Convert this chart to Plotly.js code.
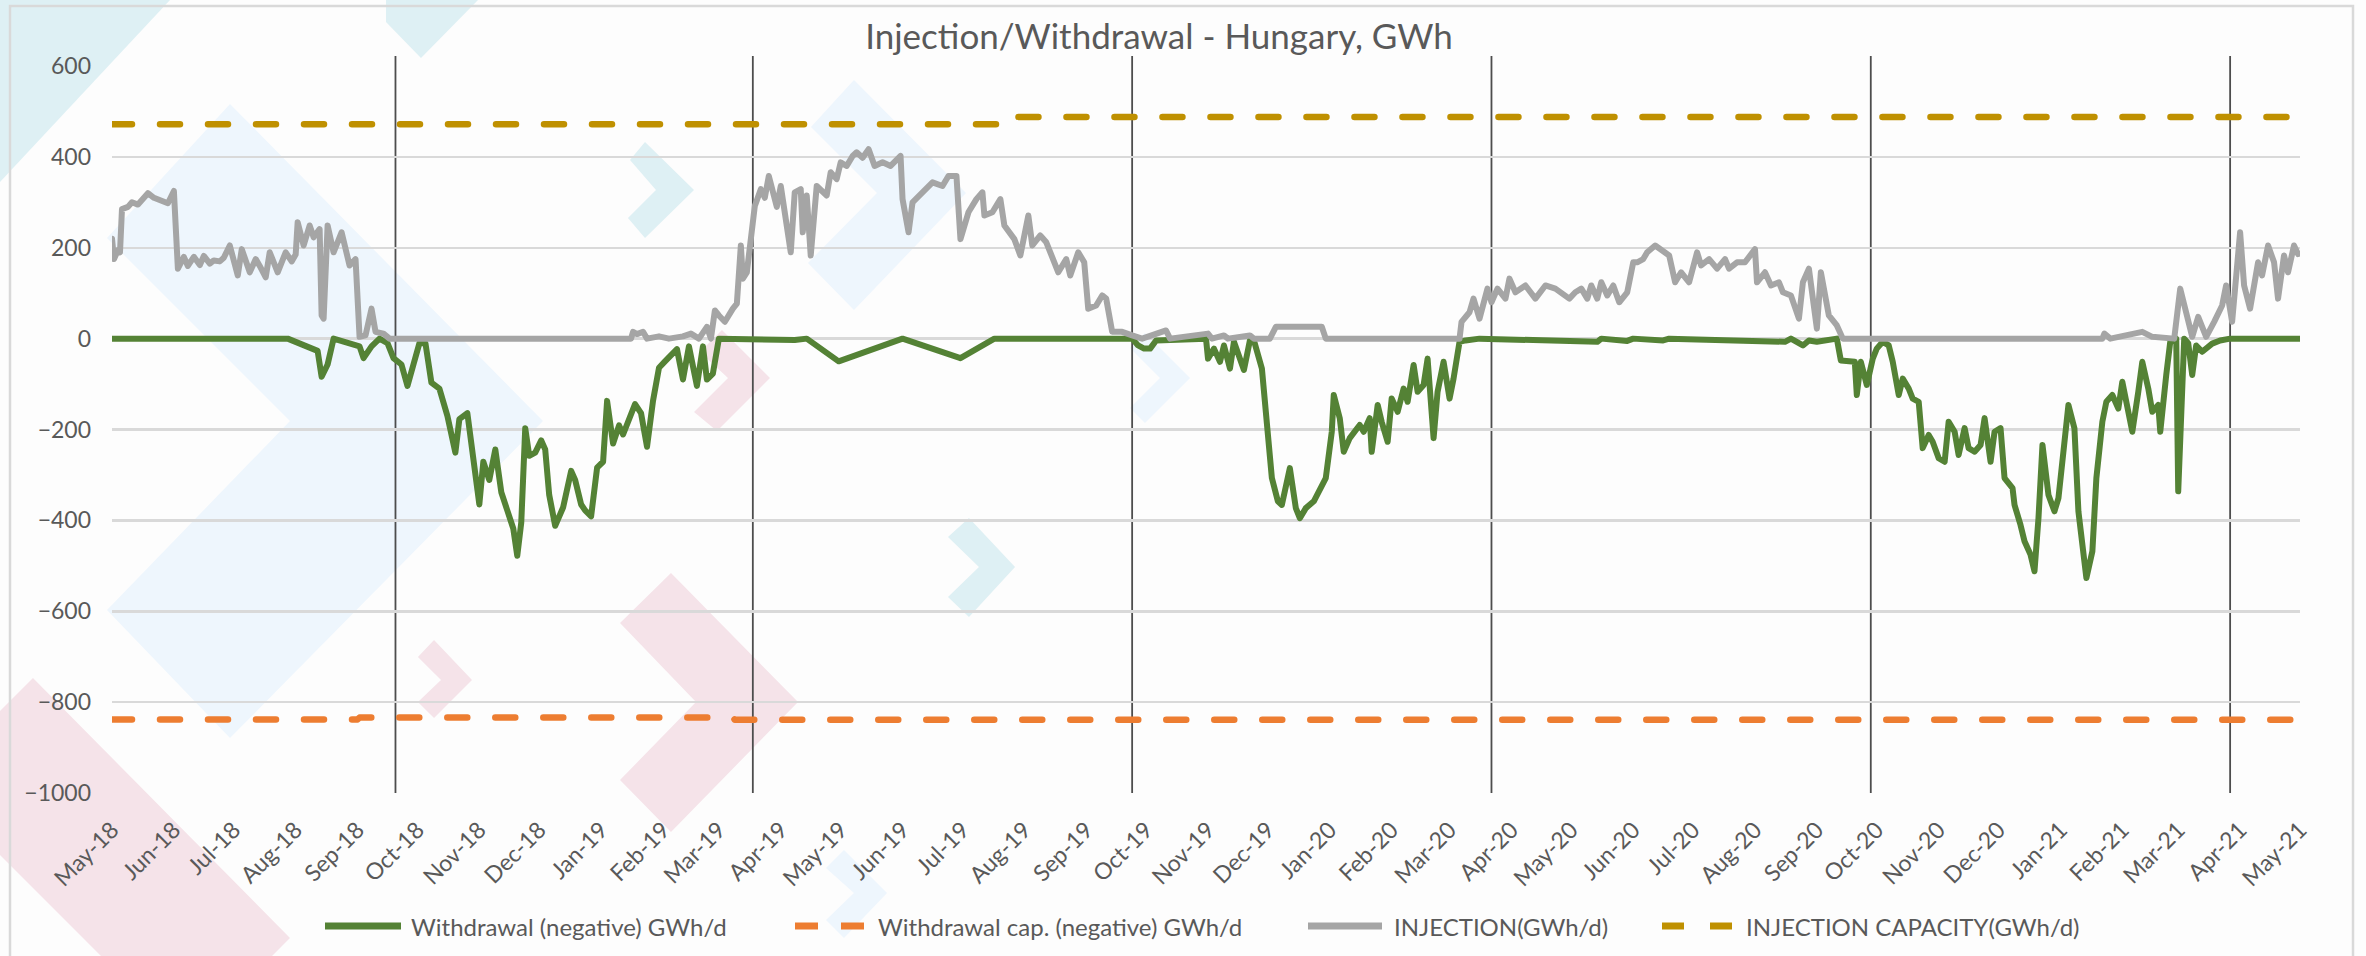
<!DOCTYPE html>
<html><head><meta charset="utf-8">
<script src="https://cdn.plot.ly/plotly-3.0.1.min.js"></script>
<style>
html,body{margin:0;padding:0;background:#fdfdfd;}
#chart{width:2366px;height:956px;}
#chart .scatterlayer path.js-line{stroke-linecap:round;stroke-linejoin:round;}
#chart .scatterlayer g.trace:nth-of-type(2) path.js-line,
#chart .scatterlayer g.trace:nth-of-type(4) path.js-line{stroke-dasharray:20px,28px !important;}
</style>
</head><body><div id="chart"></div>
<script>
// ---------------- DATA ----------------
const withdrawalDates = ['2018-05-01','2018-07-28','2018-08-12','2018-08-14','2018-08-17','2018-08-20','2018-09-02','2018-09-04','2018-09-08','2018-09-12','2018-09-16','2018-09-19','2018-09-23','2018-09-26','2018-09-29','2018-10-02','2018-10-05','2018-10-08','2018-10-12','2018-10-16','2018-10-20','2018-10-22','2018-10-26','2018-10-30','2018-11-01','2018-11-03','2018-11-06','2018-11-09','2018-11-12','2018-11-15','2018-11-18','2018-11-20','2018-11-22','2018-11-24','2018-11-26','2018-11-29','2018-12-02','2018-12-04','2018-12-06','2018-12-09','2018-12-13','2018-12-17','2018-12-19','2018-12-22','2018-12-24','2018-12-27','2018-12-30','2019-01-02','2019-01-04','2019-01-07','2019-01-10','2019-01-12','2019-01-15','2019-01-18','2019-01-21','2019-01-24','2019-01-27','2019-01-30','2019-02-02','2019-02-06','2019-02-08','2019-02-11','2019-02-14','2019-02-18','2019-02-21','2019-02-23','2019-02-26','2019-03-01','2019-03-17','2019-04-08','2019-04-14','2019-04-30','2019-06-01','2019-06-30','2019-07-17','2019-09-24','2019-09-27','2019-09-30','2019-10-03','2019-10-06','2019-10-31','2019-11-01','2019-11-04','2019-11-07','2019-11-09','2019-11-12','2019-11-14','2019-11-17','2019-11-19','2019-11-22','2019-11-24','2019-11-28','2019-12-01','2019-12-03','2019-12-06','2019-12-08','2019-12-12','2019-12-15','2019-12-17','2019-12-20','2019-12-24','2019-12-28','2019-12-30','2020-01-02','2020-01-03','2020-01-06','2020-01-08','2020-01-11','2020-01-13','2020-01-16','2020-01-18','2020-01-21','2020-01-22','2020-01-25','2020-01-27','2020-01-30','2020-02-01','2020-02-04','2020-02-07','2020-02-09','2020-02-12','2020-02-14','2020-02-17','2020-02-19','2020-02-22','2020-02-24','2020-02-27','2020-03-01','2020-03-03','2020-03-06','2020-03-09','2020-03-16','2020-05-14','2020-05-16','2020-05-29','2020-06-01','2020-06-16','2020-06-19','2020-08-16','2020-08-19','2020-08-25','2020-08-28','2020-09-01','2020-09-11','2020-09-13','2020-09-17','2020-09-20','2020-09-21','2020-09-23','2020-09-26','2020-09-29','2020-10-01','2020-10-04','2020-10-07','2020-10-09','2020-10-12','2020-10-14','2020-10-17','2020-10-19','2020-10-22','2020-10-24','2020-10-27','2020-10-29','2020-11-01','2020-11-04','2020-11-06','2020-11-09','2020-11-11','2020-11-14','2020-11-16','2020-11-19','2020-11-22','2020-11-24','2020-11-27','2020-11-29','2020-12-02','2020-12-04','2020-12-08','2020-12-09','2020-12-12','2020-12-14','2020-12-17','2020-12-19','2020-12-21','2020-12-23','2020-12-26','2020-12-29','2020-12-31','2021-01-03','2021-01-05','2021-01-08','2021-01-10','2021-01-13','2021-01-14','2021-01-17','2021-01-19','2021-01-22','2021-01-24','2021-01-27','2021-01-30','2021-02-01','2021-02-04','2021-02-06','2021-02-09','2021-02-11','2021-02-14','2021-02-16','2021-02-19','2021-02-20','2021-02-23','2021-02-25','2021-02-28','2021-03-01','2021-03-04','2021-03-06','2021-03-08','2021-03-10','2021-03-13','2021-03-15','2021-03-18','2021-03-22','2021-03-27','2021-05-01'];
const withdrawalValues = [0,0,-27,-84,-57,0,-17,-43,-17,0,-10,-43,-57,-104,-57,-10,-10,-97,-110,-170,-251,-177,-164,-284,-365,-271,-311,-244,-338,-378,-418,-478,-405,-197,-258,-251,-224,-244,-344,-412,-371,-291,-311,-365,-378,-391,-284,-271,-137,-231,-191,-211,-177,-144,-164,-238,-137,-64,-50,-30,-23,-90,-17,-104,-17,-90,-77,0,-2,-3,0,-50,0,-43,0,0,-15,-22,-22,-4,0,-44,-22,-51,-15,-66,-7,-44,-69,-4,-4,-66,-205,-307,-358,-366,-285,-373,-395,-373,-358,-322,-307,-205,-124,-175,-249,-219,-205,-190,-205,-175,-249,-146,-183,-227,-132,-161,-110,-139,-58,-117,-102,-44,-219,-117,-51,-132,-88,-7,-4,0,-7,0,-5,0,-4,0,-7,0,-15,-4,-7,0,-48,-51,-51,-124,-51,-102,-44,-22,-7,-15,-51,-124,-88,-110,-132,-139,-241,-212,-227,-263,-271,-183,-205,-256,-197,-241,-249,-234,-175,-271,-205,-197,-307,-329,-366,-410,-446,-475,-512,-395,-234,-344,-380,-351,-219,-146,-197,-380,-490,-527,-468,-307,-183,-139,-124,-154,-95,-161,-205,-117,-51,-110,-161,-146,-205,-80,-7,0,-336,0,-10,-80,-15,-29,-22,-11,-4,0,0];

const injectionDates = ['2018-05-01','2018-05-02','2018-05-04','2018-05-05','2018-05-06','2018-05-09','2018-05-11','2018-05-14','2018-05-16','2018-05-19','2018-05-22','2018-05-25','2018-05-29','2018-06-01','2018-06-03','2018-06-06','2018-06-08','2018-06-11','2018-06-14','2018-06-16','2018-06-19','2018-06-21','2018-06-24','2018-06-26','2018-06-29','2018-07-03','2018-07-05','2018-07-09','2018-07-12','2018-07-14','2018-07-17','2018-07-19','2018-07-23','2018-07-27','2018-07-30','2018-08-01','2018-08-02','2018-08-05','2018-08-08','2018-08-10','2018-08-13','2018-08-14','2018-08-15','2018-08-17','2018-08-20','2018-08-24','2018-08-28','2018-08-31','2018-09-02','2018-09-05','2018-09-08','2018-09-10','2018-09-14','2018-09-17','2019-01-16','2019-01-17','2019-01-19','2019-01-22','2019-01-24','2019-01-30','2019-02-04','2019-02-11','2019-02-15','2019-02-19','2019-02-23','2019-02-25','2019-02-27','2019-03-01','2019-03-04','2019-03-08','2019-03-10','2019-03-12','2019-03-13','2019-03-15','2019-03-17','2019-03-19','2019-03-22','2019-03-24','2019-03-26','2019-03-28','2019-03-30','2019-04-01','2019-04-03','2019-04-06','2019-04-08','2019-04-11','2019-04-12','2019-04-14','2019-04-16','2019-04-19','2019-04-24','2019-04-26','2019-04-29','2019-05-01','2019-05-04','2019-05-07','2019-05-09','2019-05-12','2019-05-15','2019-05-18','2019-05-22','2019-05-26','2019-05-31','2019-06-01','2019-06-04','2019-06-06','2019-06-11','2019-06-16','2019-06-21','2019-06-24','2019-06-28','2019-06-30','2019-07-04','2019-07-08','2019-07-11','2019-07-12','2019-07-16','2019-07-20','2019-07-22','2019-07-27','2019-07-30','2019-08-03','2019-08-05','2019-08-09','2019-08-12','2019-08-14','2019-08-18','2019-08-22','2019-08-24','2019-08-28','2019-08-31','2019-09-02','2019-09-06','2019-09-09','2019-09-11','2019-09-14','2019-09-19','2019-09-24','2019-09-29','2019-10-11','2019-10-13','2019-11-01','2019-11-03','2019-11-09','2019-11-11','2019-11-22','2019-11-24','2019-12-02','2019-12-05','2019-12-28','2019-12-30','2020-03-06','2020-03-07','2020-03-11','2020-03-13','2020-03-16','2020-03-20','2020-03-22','2020-03-25','2020-03-29','2020-03-31','2020-04-03','2020-04-08','2020-04-13','2020-04-18','2020-04-23','2020-04-30','2020-05-03','2020-05-06','2020-05-09','2020-05-11','2020-05-14','2020-05-16','2020-05-19','2020-05-22','2020-05-25','2020-05-29','2020-06-01','2020-06-03','2020-06-06','2020-06-08','2020-06-12','2020-06-16','2020-06-19','2020-06-22','2020-06-25','2020-06-29','2020-07-03','2020-07-05','2020-07-09','2020-07-13','2020-07-17','2020-07-19','2020-07-23','2020-07-27','2020-08-01','2020-08-02','2020-08-06','2020-08-09','2020-08-13','2020-08-15','2020-08-19','2020-08-23','2020-08-25','2020-08-28','2020-09-01','2020-09-03','2020-09-07','2020-09-11','2020-09-14','2021-01-22','2021-01-23','2021-01-26','2021-02-11','2021-02-16','2021-02-27','2021-03-02','2021-03-05','2021-03-08','2021-03-11','2021-03-15','2021-03-19','2021-03-23','2021-03-25','2021-03-28','2021-04-01','2021-04-03','2021-04-06','2021-04-10','2021-04-12','2021-04-15','2021-04-18','2021-04-20','2021-04-23','2021-04-25','2021-04-28','2021-04-30'];
const injectionValues = [220,175,195,190,285,290,300,295,305,320,310,305,298,325,154,180,160,180,162,182,165,172,170,178,205,139,197,146,175,160,135,190,146,190,170,185,256,205,249,223,241,51,44,249,190,234,161,175,4,7,66,15,11,0,0,15,10,15,0,5,0,5,11,0,26,0,62,51,37,66,77,205,132,146,234,292,329,310,358,320,290,336,277,190,322,329,234,315,183,336,315,366,351,388,380,402,410,398,417,380,388,380,402,307,234,300,322,344,336,358,358,219,278,307,322,271,278,307,249,219,183,271,205,227,212,190,146,175,139,190,168,66,73,95,88,15,15,7,0,18,0,11,0,7,0,7,0,0,26,26,0,0,37,58,88,44,110,80,110,88,132,102,117,88,117,110,88,102,110,88,117,88,124,95,117,80,102,168,168,175,190,205,190,183,124,146,124,190,161,175,154,175,154,168,168,197,124,146,117,124,102,95,44,124,154,22,146,51,29,0,0,11,0,15,4,0,110,51,4,48,4,37,73,117,37,234,117,66,168,139,205,168,88,183,146,205,186];

const withdrawalCapDates = ['2018-05-01','2018-09-01','2018-09-02','2019-03-08','2019-03-09','2021-05-01'];
const withdrawalCapValues = [-838,-838,-834,-834,-839,-839];
const injectionCapDates = ['2018-05-01','2019-07-27','2019-07-28','2021-05-01'];
const injectionCapValues = [472,472,488,488];

const storageYearMarks = ['2018-09-20','2019-03-18','2019-09-24','2020-03-22','2020-09-28','2021-03-27'];

const seriesNames = ['Withdrawal (negative) GWh/d','Withdrawal cap. (negative) GWh/d','INJECTION(GWh/d)','INJECTION CAPACITY(GWh/d)'];
const seriesColors = ['#548235','#ed7d31','#a5a5a5','#bf9000'];
const chartTitle = 'Injection/Withdrawal - Hungary, GWh';

// ---------------- LAYOUT HELPERS ----------------
const W = 2366, H = 956, ML = 112, MR = 66, MT = 66, MB = 163;
const PW = W - ML - MR, PH = H - MT - MB;
function toPaper(p){ return [(p[0]-ML)/PW, (H-MB-p[1])/PH]; }
function pathOf(pts){
  return 'M' + pts.map(p => { const q = toPaper(p); return q[0].toFixed(5)+','+q[1].toFixed(5); }).join('L') + 'Z';
}
const CYAN = '#def0f4', BLUE = '#eef6fd', PINK = '#f5e3e9';
const decor = [
  [CYAN, [[0,0],[170,0],[0,182]]],
  [CYAN, [[386,0],[478,0],[421,58],[386,22]]],
  [BLUE, [[230,104],[543,421],[230,738],[107,610],[290,421],[107,238]]],
  [BLUE, [[854,80],[966,193],[854,310],[808,263],[877,193],[811,127]]],
  [CYAN, [[645,142],[694,190],[645,238],[628,218],[656,190],[630,160]]],
  [PINK, [[722,330],[770,378],[717,431],[694,412],[728,378],[700,352]]],
  [BLUE, [[1145,333],[1190,378],[1145,423],[1130,408],[1160,378],[1130,348]]],
  [CYAN, [[969,518],[1015,567],[969,617],[948,597],[979,567],[948,537]]],
  [PINK, [[434,640],[472,680],[434,718],[418,702],[441,680],[418,657]]],
  [PINK, [[671,573],[798,702],[671,832],[620,780],[696,702],[620,623]]],
  [PINK, [[33,678],[290,938],[272,956],[101,956],[85,940],[0,855],[0,711]]],
  [BLUE, [[844,850],[887,893],[844,938],[826,920],[854,893],[826,868]]]
];
const shapes = decor.map(d => ({type:'path', xref:'paper', yref:'paper', path: pathOf(d[1]),
  fillcolor: d[0], line:{width:0}, layer:'below'}));
const b0 = toPaper([10,6]), b1 = toPaper([2353,962]);
shapes.push({type:'rect', xref:'paper', yref:'paper', x0:b0[0], y0:b0[1], x1:b1[0], y1:b1[1],
  line:{color:'#d9d9d9', width:2.5}, fillcolor:'rgba(0,0,0,0)', layer:'below'});
storageYearMarks.forEach(d => shapes.push({type:'line', xref:'x', yref:'paper', x0:d, x1:d,
  y0:0, y1:1 + 10/PH, line:{color:'#4d4d4d', width:1.8}, layer:'between'}));

const FONT = 'Lato, "Liberation Sans", Arial, sans-serif';
const TXT = '#595959';

// ---------------- LEGEND (drawn manually to match the wide Excel keys) ----------------
const LEG_Y = 926;
const legendKeys = [
  {segs: [[325,401]], text: 409},
  {segs: [[795,818],[841,864]], text: 876},
  {segs: [[1308,1382]], text: 1392},
  {segs: [[1662,1684],[1710,1732]], text: 1744}
];
const annotations = [];
legendKeys.forEach((k, i) => {
  k.segs.forEach(s => {
    const a = toPaper([s[0], LEG_Y]), b = toPaper([s[1], LEG_Y]);
    shapes.push({type:'line', xref:'paper', yref:'paper', x0:a[0], y0:a[1], x1:b[0], y1:b[1],
      line:{color: seriesColors[i], width: 7}, layer:'above'});
  });
  const t = toPaper([k.text, LEG_Y]);
  annotations.push({xref:'paper', yref:'paper', x:t[0], y:t[1], xanchor:'left', yanchor:'middle',
    text: seriesNames[i], showarrow:false, font:{family: FONT, size: 24, color: TXT}});
});

const traces = [
  {x: withdrawalDates, y: withdrawalValues, name: seriesNames[0], type:'scatter', mode:'lines',
   line:{color: seriesColors[0], width:6}},
  {x: withdrawalCapDates, y: withdrawalCapValues, name: seriesNames[1], type:'scatter', mode:'lines',
   line:{color: seriesColors[1], width:6.5, dash:'20px,28px'}},
  {x: injectionDates, y: injectionValues, name: seriesNames[2], type:'scatter', mode:'lines',
   line:{color: seriesColors[2], width:6}},
  {x: injectionCapDates, y: injectionCapValues, name: seriesNames[3], type:'scatter', mode:'lines',
   line:{color: seriesColors[3], width:6.5, dash:'20px,28px'}}
];

const layout = {
  width: W, height: H,
  paper_bgcolor: '#fdfdfd', plot_bgcolor: 'rgba(0,0,0,0)',
  margin: {l: ML, r: MR, t: MT, b: MB, pad: 0},
  font: {family: FONT, color: TXT, size: 23},
  title: {text: chartTitle, font: {family: FONT, size: 35, color: TXT},
          x: 1159/W, xref: 'container', xanchor: 'center', y: 1 - 37/H, yref: 'container', yanchor: 'middle'},
  xaxis: {type: 'date', range: ['2018-05-01','2021-05-01'], tick0: '2018-05-01', dtick: 'M1',
          tickformat: '%b-%y', tickangle: -45, showgrid: false, zeroline: false, showline: false,
          ticks: '', tickfont: {family: FONT, size: 23, color: TXT}, ticklabelstandoff: 18, fixedrange: true},
  yaxis: {range: [-1000, 600], dtick: 200, tick0: 0, showgrid: true, gridcolor: '#d9d9d9', gridwidth: 2.5,
          zeroline: false, showline: false, ticks: '', tickfont: {family: FONT, size: 23, color: TXT},
          ticklabelstandoff: 20, fixedrange: true},
  showlegend: false,
  shapes: shapes,
  annotations: annotations
};

Plotly.newPlot('chart', traces, layout, {displayModeBar: false, staticPlot: true});
</script>
</body></html>
